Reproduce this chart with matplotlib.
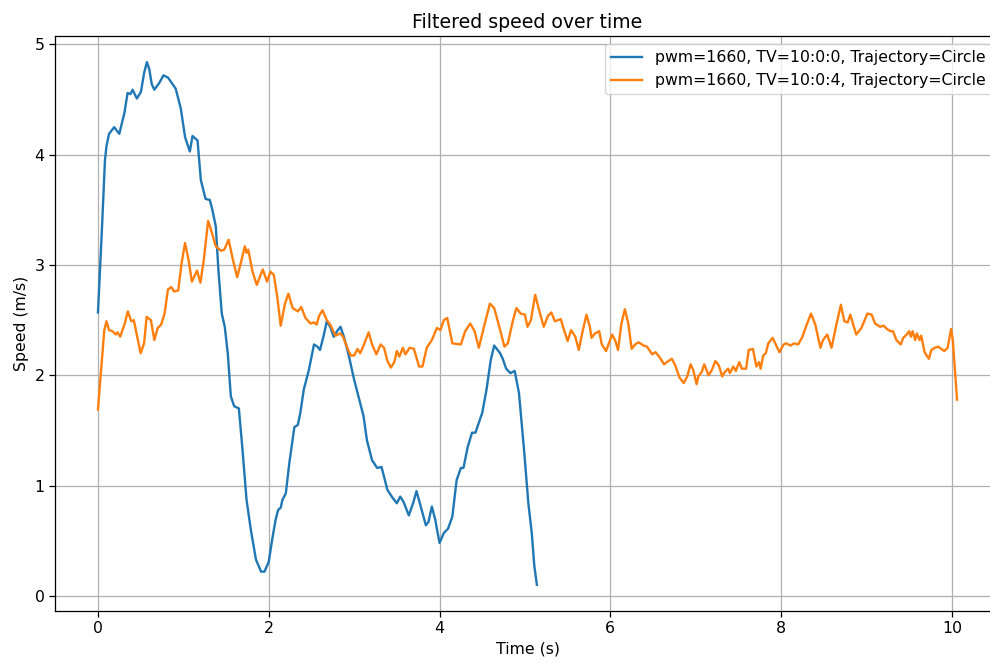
import matplotlib
matplotlib.use("Agg")
import matplotlib.pyplot as plt

# Series 1: pwm=1660, TV=10:0:0
t_blue = [0.0, 0.045, 0.082, 0.10, 0.13, 0.19, 0.25, 0.31, 0.347, 0.38, 0.405, 0.456, 0.503,
          0.54, 0.573, 0.60, 0.63, 0.66, 0.717, 0.767, 0.82, 0.91, 0.97, 1.02, 1.076, 1.107,
          1.166, 1.205, 1.26, 1.31, 1.34, 1.38, 1.41, 1.45, 1.485, 1.52, 1.556, 1.595, 1.65,
          1.69, 1.74, 1.79, 1.85, 1.91, 1.95, 2.0, 2.04, 2.08, 2.11, 2.14, 2.16, 2.2, 2.24,
          2.30, 2.34, 2.37, 2.41, 2.47, 2.53, 2.57, 2.60, 2.64, 2.68, 2.72, 2.76, 2.80, 2.84,
          2.88, 2.94, 3.0, 3.06, 3.11, 3.15, 3.21, 3.27, 3.32, 3.39, 3.45, 3.50, 3.54, 3.58,
          3.64, 3.69, 3.73, 3.78, 3.84, 3.87, 3.91, 3.95, 4.0, 4.05, 4.10, 4.15, 4.20, 4.25,
          4.28, 4.33, 4.38, 4.42, 4.46, 4.50, 4.55, 4.60, 4.64, 4.68, 4.71, 4.74, 4.78, 4.83,
          4.88, 4.93, 4.99, 5.04, 5.08, 5.11, 5.14]
v_blue = [2.57, 3.3, 3.95, 4.08, 4.19, 4.25, 4.19, 4.38, 4.56, 4.55, 4.59, 4.51, 4.57,
          4.74, 4.84, 4.78, 4.64, 4.59, 4.65, 4.72, 4.70, 4.60, 4.42, 4.16, 4.03, 4.17,
          4.13, 3.77, 3.60, 3.59, 3.50, 3.35, 2.96, 2.56, 2.44, 2.20, 1.81, 1.72, 1.70,
          1.35, 0.87, 0.60, 0.33, 0.22, 0.22, 0.31, 0.51, 0.69, 0.78, 0.80, 0.87, 0.93, 1.2,
          1.53, 1.55, 1.66, 1.87, 2.05, 2.28, 2.26, 2.23, 2.35, 2.49, 2.44, 2.35, 2.40, 2.44,
          2.35, 2.17, 1.96, 1.78, 1.63, 1.41, 1.23, 1.16, 1.17, 0.96, 0.89, 0.84, 0.90, 0.85,
          0.73, 0.84, 0.95, 0.81, 0.64, 0.67, 0.81, 0.69, 0.48, 0.57, 0.61, 0.72, 1.05, 1.16,
          1.16, 1.35, 1.48, 1.48, 1.57, 1.66, 1.87, 2.14, 2.27, 2.23, 2.20, 2.15, 2.06, 2.02,
          2.04, 1.84, 1.32, 0.84, 0.57, 0.27, 0.10]

# Series 2: pwm=1660, TV=10:0:4
t_orange = [0.0, 0.074, 0.10, 0.13, 0.17, 0.21, 0.23, 0.26, 0.31, 0.35, 0.39, 0.42, 0.46,
            0.50, 0.54, 0.57, 0.62, 0.66, 0.70, 0.74, 0.78, 0.82, 0.86, 0.89, 0.94, 0.98,
            1.02, 1.06, 1.10, 1.16, 1.20, 1.24, 1.29, 1.32, 1.38, 1.44, 1.48, 1.53, 1.58,
            1.63, 1.67, 1.72, 1.74, 1.76, 1.81, 1.86, 1.93, 1.98, 2.02, 2.06, 2.10, 2.14,
            2.19, 2.23, 2.28, 2.34, 2.38, 2.43, 2.49, 2.53, 2.56, 2.59, 2.63, 2.68, 2.72,
            2.78, 2.84, 2.87, 2.93, 2.96, 3.0, 3.04, 3.07, 3.11, 3.17, 3.21, 3.26, 3.31,
            3.35, 3.39, 3.43, 3.47, 3.50, 3.53, 3.57, 3.60, 3.65, 3.70, 3.76, 3.80, 3.85,
            3.91, 3.97, 4.01, 4.05, 4.09, 4.15, 4.25, 4.30, 4.36, 4.41, 4.46, 4.52, 4.59,
            4.64, 4.71, 4.76, 4.80, 4.86, 4.90, 4.95, 5.0, 5.03, 5.07, 5.12, 5.17, 5.22,
            5.27, 5.31, 5.35, 5.42, 5.45, 5.50, 5.54, 5.59, 5.63, 5.67, 5.72, 5.76, 5.78,
            5.82, 5.87, 5.90, 5.95, 6.02, 6.06, 6.09, 6.13, 6.17, 6.21, 6.25, 6.29, 6.33,
            6.39, 6.43, 6.49, 6.53, 6.58, 6.63, 6.68, 6.72, 6.76, 6.81, 6.86, 6.90, 6.94,
            6.97, 7.01, 7.03, 7.07, 7.10, 7.15, 7.19, 7.23, 7.27, 7.31, 7.34, 7.38, 7.40,
            7.44, 7.47, 7.51, 7.54, 7.59, 7.62, 7.67, 7.71, 7.74, 7.76, 7.79, 7.82, 7.85,
            7.90, 7.98, 8.03, 8.06, 8.11, 8.15, 8.20, 8.25, 8.29, 8.35, 8.40, 8.46, 8.49,
            8.54, 8.59, 8.65, 8.70, 8.74, 8.78, 8.81, 8.84, 8.88, 8.94, 9.01, 9.06, 9.10,
            9.16, 9.20, 9.24, 9.28, 9.31, 9.35, 9.40, 9.43, 9.47, 9.50, 9.52, 9.54, 9.57,
            9.59, 9.62, 9.64, 9.68, 9.73, 9.76, 9.80, 9.84, 9.91, 9.95, 9.99, 10.01, 10.06]
v_orange = [1.69, 2.41, 2.49, 2.41, 2.40, 2.37, 2.39, 2.35, 2.46, 2.58, 2.49, 2.50, 2.35,
            2.20, 2.29, 2.53, 2.50, 2.32, 2.43, 2.46, 2.56, 2.78, 2.80, 2.76, 2.77, 3.02,
            3.20, 3.05, 2.85, 2.95, 2.84, 3.05, 3.40, 3.33, 3.17, 3.13, 3.14, 3.23, 3.05,
            2.89, 3.01, 3.17, 3.11, 3.14, 2.94, 2.82, 2.96, 2.85, 2.94, 2.91, 2.71, 2.45,
            2.65, 2.74, 2.61, 2.58, 2.62, 2.52, 2.47, 2.48, 2.46, 2.54, 2.59, 2.50, 2.46,
            2.36, 2.38, 2.35, 2.23, 2.18, 2.18, 2.24, 2.20, 2.27, 2.39, 2.28, 2.19, 2.28,
            2.25, 2.13, 2.07, 2.12, 2.22, 2.17, 2.25, 2.19, 2.25, 2.24, 2.08, 2.08, 2.25,
            2.32, 2.43, 2.41, 2.50, 2.52, 2.29, 2.28, 2.40, 2.47, 2.40, 2.25, 2.44, 2.65,
            2.61, 2.41, 2.26, 2.29, 2.50, 2.61, 2.56, 2.55, 2.44, 2.50, 2.73, 2.58, 2.44,
            2.54, 2.57, 2.49, 2.51, 2.43, 2.31, 2.41, 2.35, 2.23, 2.38, 2.55, 2.44, 2.34,
            2.38, 2.40, 2.28, 2.22, 2.37, 2.31, 2.23, 2.47, 2.60, 2.47, 2.24, 2.28, 2.30,
            2.27, 2.26, 2.19, 2.21, 2.16, 2.10, 2.13, 2.15, 2.09, 1.98, 1.93, 1.99, 2.10,
            2.05, 1.92, 1.99, 2.03, 2.10, 2.00, 2.05, 2.13, 2.09, 1.99, 2.03, 2.06, 2.02,
            2.08, 2.04, 2.12, 2.06, 2.06, 2.23, 2.24, 2.08, 2.12, 2.06, 2.18, 2.20, 2.29,
            2.34, 2.21, 2.28, 2.29, 2.27, 2.29, 2.28, 2.35, 2.44, 2.56, 2.46, 2.25, 2.32,
            2.37, 2.25, 2.47, 2.64, 2.49, 2.48, 2.55, 2.47, 2.37, 2.43, 2.56, 2.55, 2.47,
            2.44, 2.45, 2.42, 2.40, 2.40, 2.32, 2.28, 2.34, 2.37, 2.40, 2.35, 2.40, 2.32,
            2.38, 2.32, 2.36, 2.21, 2.15, 2.23, 2.25, 2.26, 2.22, 2.25, 2.42, 2.32, 1.78]

labels = ["pwm=1660, TV=10:0:0, Trajectory=Circle",
          "pwm=1660, TV=10:0:4, Trajectory=Circle"]

s = 1.135
plt.rcParams.update({
    "font.size": 10 * s,
    "axes.titlesize": 12 * s,
    "lines.linewidth": 1.5 * s,
    "axes.linewidth": 0.8 * s,
    "grid.linewidth": 0.8 * s,
    "xtick.major.size": 3.5 * s,
    "ytick.major.size": 3.5 * s,
    "xtick.major.width": 0.8 * s,
    "ytick.major.width": 0.8 * s,
})

fig = plt.figure(figsize=(9.9, 6.64), dpi=100)
ax = fig.add_axes([55 / 990, 53 / 664, 945 / 990, 575 / 664])
ax.plot(t_blue, v_blue, color="tab:blue", label=labels[0])
ax.plot(t_orange, v_orange, color="tab:orange", label=labels[1])
ax.set_title("Filtered speed over time")
ax.set_xlabel("Time (s)")
ax.set_ylabel("Speed (m/s)")
ax.grid(True)
ax.legend(loc="upper right")
fig.savefig("out.png", dpi=100)
